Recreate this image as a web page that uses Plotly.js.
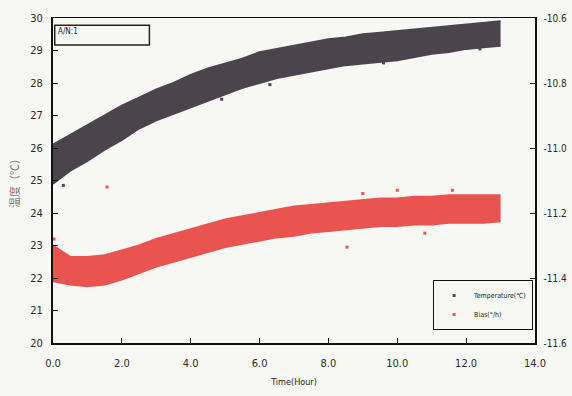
<!DOCTYPE html>
<html><head><meta charset="utf-8">
<script src="https://cdn.plot.ly/plotly-3.0.1.min.js"></script>
<style>html,body{margin:0;padding:0;background:#f7f7f4;}#chart{width:572px;height:396px;}</style>
</head><body><div id="chart"></div>
<script>
// Time (hours) samples read along the bands
const timeH = [0,0.5,1,1.5,2,2.5,3,3.5,4,4.5,5,5.5,6,6.5,7,7.5,8,8.5,9,9.5,10,10.5,11,11.5,12,12.5,13];
// Temperature band (upper / lower edge of the dot cloud), °C
const tempUpper = [26.1,26.4,26.7,27.0,27.3,27.55,27.8,28.0,28.25,28.45,28.6,28.75,28.95,29.05,29.15,29.25,29.35,29.4,29.5,29.55,29.6,29.65,29.7,29.75,29.8,29.85,29.9];
const tempLower = [24.9,25.3,25.6,25.95,26.25,26.6,26.85,27.05,27.25,27.45,27.65,27.85,28.0,28.15,28.25,28.35,28.45,28.55,28.6,28.65,28.7,28.8,28.9,28.95,29.05,29.1,29.15];
// Bias band (upper / lower edge), °/h
const biasUpper = [-11.30,-11.335,-11.335,-11.33,-11.315,-11.30,-11.28,-11.265,-11.25,-11.235,-11.22,-11.21,-11.20,-11.19,-11.18,-11.175,-11.17,-11.165,-11.16,-11.155,-11.155,-11.15,-11.15,-11.145,-11.145,-11.145,-11.145];
const biasLower = [-11.41,-11.42,-11.425,-11.42,-11.405,-11.385,-11.365,-11.35,-11.335,-11.32,-11.305,-11.295,-11.285,-11.275,-11.27,-11.26,-11.255,-11.25,-11.245,-11.24,-11.24,-11.235,-11.235,-11.23,-11.23,-11.23,-11.225];
// Isolated points
const tempOutX = [0.3,4.9,6.3,9.6,12.4];
const tempOutY = [24.85,27.5,27.95,28.62,29.05];
const biasOutX = [0.03,1.57,8.54,9.0,10.0,10.8,11.6];
const biasOutY = [-11.28,-11.12,-11.305,-11.14,-11.13,-11.262,-11.13];
// Right-axis tick labels
const biasTickVals = [-11.6,-11.4,-11.2,-11.0,-10.8,-10.6];
const biasTickText = ['-11.6','-11.4','-11.2','-11.0','-10.8','-10.6'];

const tempCol = '#4b444c', biasCol = '#ea5450';
const traces = [
  {x: timeH, y: tempLower, mode:'lines', line:{color:tempCol,width:2}, showlegend:false, hoverinfo:'skip'},
  {x: timeH, y: tempUpper, mode:'lines', line:{color:tempCol,width:2}, fill:'tonexty', fillcolor:tempCol, showlegend:false, hoverinfo:'skip'},
  {x: timeH, y: biasLower, yaxis:'y2', mode:'lines', line:{color:biasCol,width:2}, showlegend:false, hoverinfo:'skip'},
  {x: timeH, y: biasUpper, yaxis:'y2', mode:'lines', line:{color:biasCol,width:2}, fill:'tonexty', fillcolor:biasCol, showlegend:false, hoverinfo:'skip'},
  {x: tempOutX, y: tempOutY, mode:'markers', name:'Temperature(℃)', marker:{color:tempCol,size:3,symbol:'square'}},
  {x: biasOutX, y: biasOutY, yaxis:'y2', mode:'markers', name:'Bias(°/h)', marker:{color:biasCol,size:3,symbol:'square'}}
];
const fam = '"DejaVu Sans Condensed","Liberation Sans Narrow","Liberation Sans",Arial,sans-serif';
const fnt = {family:fam, size:11, color:'#2a2a2a'};
const layout = {
  width:572, height:396,
  paper_bgcolor:'#f7f7f4', plot_bgcolor:'#f7f7f4',
  margin:{l:53, r:37, t:18, b:53},
  font: fnt,
  xaxis:{range:[0,14], dtick:2, tickformat:'.1f', ticks:'inside', ticklen:5, tickcolor:'#111', ticklabelstandoff:9,
         showline:true, linecolor:'#111', linewidth:1.5, mirror:true, showgrid:false, zeroline:false,
         title:{text:'Time(Hour)', font:{family:fam,size:9,color:'#222'}, standoff:10}},
  yaxis:{range:[20,30], dtick:1, ticks:'inside', ticklen:5, tickcolor:'#111', ticklabelstandoff:6,
         showline:true, linecolor:'#111', linewidth:2, showgrid:false, zeroline:false,
         title:{text:'温度（℃）', font:{family:'"Noto Sans CJK JP",sans-serif',size:11,color:'#777'}, standoff:8}},
  yaxis2:{range:[-11.6,-10.6], tickmode:'array', tickvals:biasTickVals, ticktext:biasTickText, overlaying:'y', side:'right',
          ticks:'inside', ticklen:5, tickcolor:'#111', ticklabelstandoff:5, tickfont:{family:fam,size:10,color:'#2a2a2a'},
          showline:true, linecolor:'#111', linewidth:1.5, showgrid:false, zeroline:false},
  legend:{x:0.996, xanchor:'right', y:0.04, yanchor:'bottom', bgcolor:'#f7f7f4', bordercolor:'#111', borderwidth:1,
          traceorder:'normal', font:{family:fam,size:7,color:'#222'}, tracegroupgap:0, itemwidth:30},
  shapes:[{type:'rect', xref:'x', yref:'y', x0:0.05, x1:2.8, y0:29.17, y1:29.78, line:{color:'#222',width:1.5}, fillcolor:'rgba(0,0,0,0)'}],
  annotations:[{xref:'x', yref:'y', x:0.1, y:29.6, xanchor:'left', yanchor:'middle', text:'A/N:1', showarrow:false,
                font:{family:fam,size:8,color:'#222'}}]
};
Plotly.newPlot('chart', traces, layout, {displayModeBar:false, staticPlot:true});
</script></body></html>
